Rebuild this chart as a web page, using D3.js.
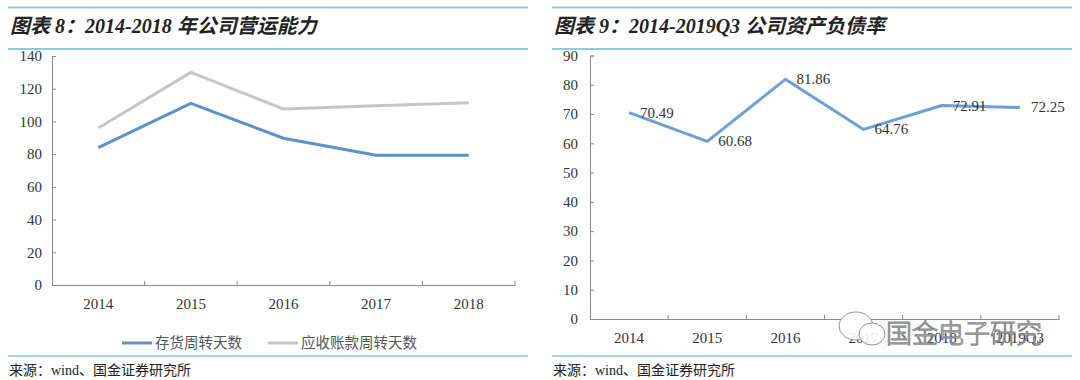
<!DOCTYPE html>
<html><head><meta charset="utf-8">
<script src="https://cdn.jsdelivr.net/npm/d3@7"></script>
<style>
html,body{margin:0;padding:0;background:#fff;}
svg{display:block;}
.num{font-family:"Liberation Serif","Times New Roman",serif;font-size:15px;fill:#333;}
</style></head>
<body><svg id="c" width="1080" height="380"></svg>
<script>
// ---- data ----
const leftYears = ["2014","2015","2016","2017","2018"];
const inventoryDays = [84, 111, 89.7, 79.3, 79.3];      // 存货周转天数
const receivableDays = [96, 130, 107.6, 109.6, 111.4]; // 应收账款周转天数
const leftTicks = [0,20,40,60,80,100,120,140];
const leftSeriesNames = ["存货周转天数","应收账款周转天数"];

const rightYears = ["2014","2015","2016","2017","2018","2019Q3"];
const debtRatio = [70.49, 60.68, 81.86, 64.76, 72.91, 72.25]; // 资产负债率
const rightTicks = [0,10,20,30,40,50,60,70,80,90];

const titles = ["图表 8：2014-2018 年公司营运能力","图表 9：2014-2019Q3 公司资产负债率"];
const sourceText = "来源：wind、国金证券研究所";
const watermarkText = "国金电子研究";

// ---- styles ----
const axisColor = "#8a8a8a";
const blueL = "#5b92cf", grayL = "#c6c6c6", blueR = "#6aa0d4";
const topLineColor = "#8cc8e4", bottomLineColor = "#a7d6dd";
const serifCJK = '"Liberation Serif","Times New Roman","Noto Sans CJK SC",serif';

const svg = d3.select("#c");

// Panel frames (title lines, source line)
[[8,528],[552,1072]].forEach((r,i)=>{
  svg.append("line").attr("x1",r[0]).attr("x2",r[1]).attr("y1",7.5).attr("y2",7.5)
    .attr("stroke",topLineColor).attr("stroke-width",2);
  svg.append("line").attr("x1",r[0]).attr("x2",r[1]).attr("y1",49).attr("y2",49)
    .attr("stroke",topLineColor).attr("stroke-width",2);
  svg.append("line").attr("x1",r[0]).attr("x2",r[1]).attr("y1",356).attr("y2",356)
    .attr("stroke",bottomLineColor).attr("stroke-width",2);
  svg.append("text").attr("x",r[0]+2).attr("y",33)
    .attr("font-family",serifCJK).attr("font-size",20).attr("font-weight","bold")
    .attr("font-style","italic").attr("fill","#222").text(titles[i]);
  svg.append("text").attr("x",r[0]+1).attr("y",375)
    .attr("font-family",serifCJK).attr("font-size",14).attr("fill","#222").text(sourceText);
});

function drawAxes(g, x, y, ticks, padY, labelY){
  const [x0,x1] = x.range();
  const y0 = y(0);
  const ya = g.append("g").attr("transform",`translate(${x0},0)`)
    .call(d3.axisLeft(y).tickValues(ticks).tickSize(-4).tickPadding(padY).tickFormat(d3.format("d")));
  ya.select(".domain").attr("stroke",axisColor);
  ya.selectAll(".tick line").attr("stroke",axisColor);
  ya.selectAll("text").attr("class","num").attr("font-size",null).attr("font-family",null);
  const xa = g.append("g").attr("transform",`translate(0,${y0})`)
    .call(d3.axisBottom(x).tickSize(0).tickPadding(labelY));
  xa.select(".domain").attr("stroke",axisColor);
  xa.selectAll("text").attr("class","num").attr("font-size",null).attr("font-family",null);
  const bounds = x.domain().slice(1).map(d=>x(d)).concat([x1]);
  g.selectAll(null).data(bounds).enter().append("line")
    .attr("x1",d=>d).attr("x2",d=>d).attr("y1",y0).attr("y2",y0-4)
    .attr("stroke",axisColor);
}

// ---- Left chart ----
{
  const x = d3.scaleBand().domain(leftYears).range([52,515]).padding(0);
  const y = d3.scaleLinear().domain([0,140]).range([285,56]);
  const g = svg.append("g");
  drawAxes(g, x, y, leftTicks, 10, 13);
  const line = d3.line().x((d,i)=>x(leftYears[i])+x.bandwidth()/2).y(d=>y(d));
  g.append("path").datum(receivableDays).attr("d",line).attr("fill","none")
    .attr("stroke",grayL).attr("stroke-width",3).attr("stroke-linejoin","round");
  g.append("path").datum(inventoryDays).attr("d",line).attr("fill","none")
    .attr("stroke",blueL).attr("stroke-width",3).attr("stroke-linejoin","round");
  const leg = [{name:leftSeriesNames[0],c:blueL,x:122},{name:leftSeriesNames[1],c:grayL,x:268}];
  leg.forEach(l=>{
    g.append("line").attr("x1",l.x).attr("x2",l.x+30).attr("y1",343).attr("y2",343)
      .attr("stroke",l.c).attr("stroke-width",3);
    g.append("text").attr("x",l.x+33).attr("y",348).attr("font-family",'"Noto Sans CJK SC",sans-serif')
      .attr("font-size",14.5).attr("fill","#555").text(l.name);
  });
}

// ---- Right chart ----
{
  const x = d3.scaleBand().domain(rightYears).range([590,1059]).padding(0);
  const y = d3.scaleLinear().domain([0,90]).range([319,55.5]);
  const g = svg.append("g");
  drawAxes(g, x, y, rightTicks, 12, 13);
  const cx = (d,i)=>x(rightYears[i])+x.bandwidth()/2;
  const line = d3.line().x(cx).y(d=>y(d));
  g.append("path").datum(debtRatio).attr("d",line).attr("fill","none")
    .attr("stroke",blueR).attr("stroke-width",3).attr("stroke-linejoin","round");
  g.selectAll(null).data(debtRatio).enter().append("text")
    .attr("class","num").attr("font-size","16px")
    .attr("x",(d,i)=>cx(d,i)+11).attr("y",(d)=>y(d)+5)
    .text(d=>d3.format(".2f")(d));

  // watermark (overlays the last x labels, as in the reference)
  const wm = svg.append("g").attr("opacity",0.9);
  wm.append("ellipse").attr("cx",856).attr("cy",326).attr("rx",17).attr("ry",14)
    .attr("fill","#fff").attr("stroke","#888").attr("stroke-width",1);
  wm.append("ellipse").attr("cx",872).attr("cy",334).attr("rx",13).attr("ry",11)
    .attr("fill","#fff").attr("stroke","#888").attr("stroke-width",1);
  wm.append("text").attr("x",886).attr("y",343)
    .attr("font-family",'"Noto Sans CJK SC",sans-serif').attr("font-size",26).attr("font-weight",300)
    .attr("fill","#fff").attr("stroke","#777").attr("stroke-width",1).text(watermarkText);
}
</script></body></html>
